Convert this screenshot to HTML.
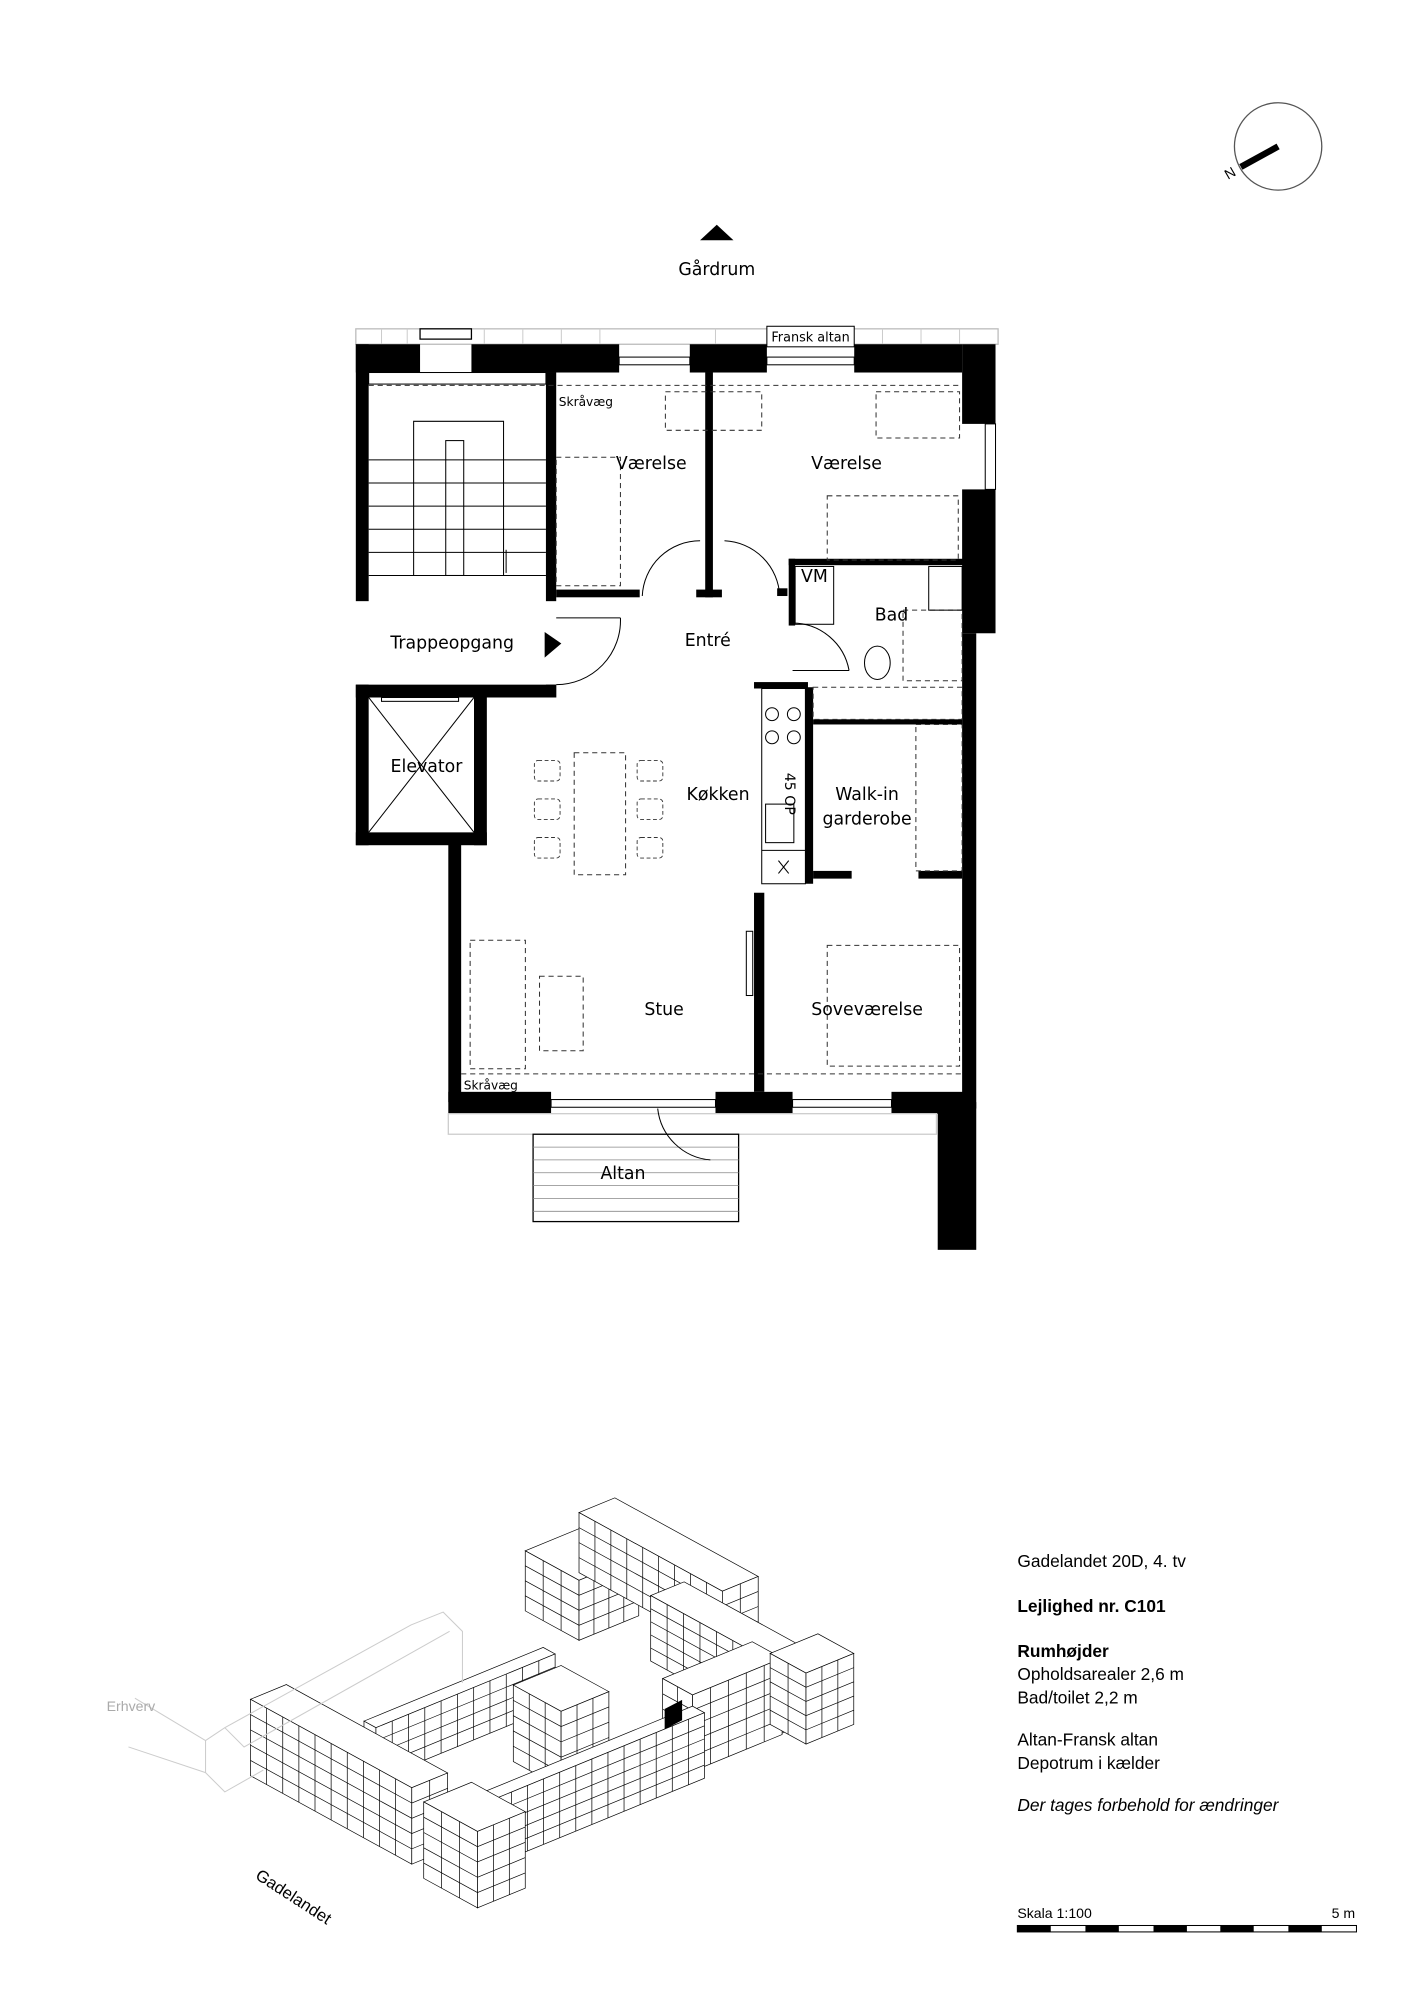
<!DOCTYPE html>
<html><head><meta charset="utf-8"><style>
html,body{margin:0;padding:0;background:#fff;}
svg{display:block;}
text{font-family:"Liberation Sans",sans-serif;}
.o{font-family:"DejaVu Sans","Liberation Sans",sans-serif;}
</style></head><body>
<svg id="s" width="1413" height="2000" viewBox="0 0 1100 1557" xmlns="http://www.w3.org/2000/svg">
<rect width="1100" height="1557" fill="#fff"/>
<circle cx="995" cy="114" r="34" fill="none" stroke="#555" stroke-width="1"/>
<line x1="995" y1="114" x2="966" y2="130" stroke="#000" stroke-width="5"/>
<text x="956" y="140" font-size="11" transform="rotate(-30 956 140)">N</text>
<polygon points="545,187 571,187 558,175" fill="#000"/>
<text class="o" x="558" y="214" font-size="13.5" text-anchor="middle">Gårdrum</text>

<g id="plan" transform="translate(-3,-2)">
<rect x="280" y="258" width="500" height="12" fill="none" stroke="#bbb" stroke-width="1"/>
<g stroke="#ccc" stroke-width="0.8">
<line x1="300" y1="258" x2="300" y2="270"/><line x1="320" y1="258" x2="320" y2="270"/><line x1="380" y1="258" x2="380" y2="270"/><line x1="410" y1="258" x2="410" y2="270"/><line x1="440" y1="258" x2="440" y2="270"/><line x1="470" y1="258" x2="470" y2="270"/><line x1="560" y1="258" x2="560" y2="270"/><line x1="690" y1="258" x2="690" y2="270"/><line x1="720" y1="258" x2="720" y2="270"/><line x1="750" y1="258" x2="750" y2="270"/>
</g>
<rect x="330" y="258" width="40" height="8" fill="#fff" stroke="#000" stroke-width="1"/>
<rect x="600" y="256" width="68" height="16" fill="#fff" stroke="#000" stroke-width="0.8"/>
<text class="o" x="634" y="268" font-size="10" text-anchor="middle">Fransk altan</text>
<g fill="#000">
<rect x="280" y="270" width="50" height="22"/>
<rect x="370" y="270" width="115" height="22"/>
<rect x="540" y="270" width="60" height="22"/>
<rect x="668" y="270" width="84" height="22"/>
<rect x="752" y="270" width="26" height="62"/>
<rect x="752" y="383" width="26" height="112"/>
<rect x="752" y="495" width="11" height="370"/>
<rect x="733" y="860" width="30" height="115"/>
<rect x="280" y="270" width="10" height="200"/>
<rect x="428" y="292" width="8" height="178"/>
<rect x="552" y="292" width="6" height="175"/>
<rect x="436" y="461" width="65" height="6"/>
<rect x="545" y="461" width="20" height="6"/>
<rect x="608" y="460" width="8" height="6"/>
<rect x="617" y="437" width="5" height="52"/>
<rect x="617" y="437" width="140" height="5"/>
<rect x="280" y="535" width="156" height="10"/>
<rect x="428" y="535" width="8" height="10"/>
<rect x="280" y="535" width="10" height="125"/>
<rect x="372" y="545" width="10" height="115"/>
<rect x="280" y="650" width="102" height="10"/>
<rect x="352" y="655" width="10" height="205"/>
<rect x="590" y="533" width="42" height="5"/>
<rect x="630" y="537" width="6" height="153"/>
<rect x="636" y="562" width="116" height="4"/>
<rect x="636" y="680" width="30" height="6"/>
<rect x="718" y="680" width="34" height="6"/>
<rect x="590" y="697" width="8" height="155"/>
<rect x="352" y="852" width="80" height="17"/>
<rect x="560" y="852" width="60" height="17"/>
<rect x="697" y="852" width="65" height="17"/>
<polygon points="427,494 440,503 427,514"/>
</g>
<g fill="none" stroke="#000" stroke-width="0.8">
<rect x="485" y="280" width="55" height="6"/><rect x="600" y="280" width="68" height="6"/>
<rect x="770" y="332" width="8" height="51"/>
<rect x="432" y="858" width="128" height="6"/><rect x="620" y="858" width="77" height="6"/>
<rect x="300" y="545" width="60" height="3"/>
</g>
<rect x="352" y="869" width="380" height="16" fill="none" stroke="#ccc"/>
<rect x="418" y="885" width="160" height="68" fill="none" stroke="#000" stroke-width="1"/>
<g stroke="#888" stroke-width="0.6"><line x1="418" y1="895" x2="578" y2="895"/><line x1="418" y1="905" x2="578" y2="905"/><line x1="418" y1="915" x2="578" y2="915"/><line x1="418" y1="925" x2="578" y2="925"/><line x1="418" y1="935" x2="578" y2="935"/><line x1="418" y1="945" x2="578" y2="945"/></g>
<path d="M515 865 A 45 45 0 0 0 556 905" fill="none" stroke="#000" stroke-width="0.8"/>
<g stroke="#000" stroke-width="0.8" fill="none">
<rect x="290" y="292" width="138" height="9"/>
<polyline points="325,450 325,330 395,330 395,450"/>
<rect x="350" y="345" width="14" height="105"/>
<line x1="290" y1="360" x2="428" y2="360"/><line x1="290" y1="378" x2="428" y2="378"/><line x1="290" y1="396" x2="428" y2="396"/><line x1="290" y1="414" x2="428" y2="414"/><line x1="290" y1="432" x2="428" y2="432"/><line x1="290" y1="450" x2="428" y2="450"/>
<line x1="397" y1="430" x2="397" y2="448"/>
<line x1="290" y1="545" x2="372" y2="650"/><line x1="372" y1="545" x2="290" y2="650"/>
<path d="M436 535 A 50 50 0 0 0 486 483" />
<line x1="436" y1="483" x2="486" y2="483"/>
<path d="M503 466 A 45 45 0 0 1 548 423"/>
<path d="M567 423 A 45 45 0 0 1 610 466"/>
<path d="M620 487 A 45 45 0 0 1 664 524"/>
<line x1="620" y1="524" x2="664" y2="524"/>
</g>
<g stroke="#333" stroke-width="0.8" fill="none" stroke-dasharray="4,3">
<line x1="290" y1="302" x2="752" y2="302"/>
<line x1="362" y1="838" x2="752" y2="838"/>
<rect x="521" y="307" width="75" height="30"/>
<rect x="685" y="307" width="65" height="36"/>
<rect x="436" y="358" width="50" height="100"/>
<rect x="647" y="388" width="102" height="50"/>
<rect x="450" y="588" width="40" height="95"/>
<rect x="369" y="734" width="43" height="100"/>
<rect x="423" y="762" width="34" height="58"/>
<rect x="647" y="738" width="103" height="94"/>
<rect x="706" y="477" width="46" height="55"/>
<rect x="636" y="537" width="116" height="25"/>
<rect x="716" y="566" width="36" height="114"/>
</g>
<g stroke="#333" stroke-width="0.7" fill="none" stroke-dasharray="3,2">
<rect x="419" y="594" width="20" height="16" rx="3"/><rect x="419" y="624" width="20" height="16" rx="3"/><rect x="419" y="654" width="20" height="16" rx="3"/>
<rect x="499" y="594" width="20" height="16" rx="3"/><rect x="499" y="624" width="20" height="16" rx="3"/><rect x="499" y="654" width="20" height="16" rx="3"/>
</g>
<g stroke="#000" stroke-width="0.8" fill="none">
<rect x="596" y="538" width="34" height="152"/>
<circle cx="604" cy="558" r="5"/><circle cx="621" cy="558" r="5"/><circle cx="604" cy="576" r="5"/><circle cx="621" cy="576" r="5"/>
<rect x="599" y="628" width="22" height="30"/>
<line x1="596" y1="664" x2="630" y2="664"/>
<line x1="609" y1="672" x2="617" y2="682"/><line x1="617" y1="672" x2="609" y2="682"/>
<rect x="622" y="443" width="30" height="45"/>
<rect x="726" y="443" width="26" height="34"/>
<ellipse cx="686" cy="518" rx="10" ry="13"/>
<rect x="584" y="727" width="5" height="50"/>
</g>
<text class="o" x="614" y="620" font-size="11" text-anchor="middle" transform="rotate(90 614 620)">45 OP</text>
<g class="o" font-size="13.5" text-anchor="middle">
<text x="510" y="367" class="o">Værelse</text>
<text x="662" y="367" class="o">Værelse</text>
<text x="637" y="455" class="o">VM</text>
<text x="697" y="485" class="o">Bad</text>
<text x="355" y="507" class="o">Trappeopgang</text>
<text x="554" y="505" class="o">Entré</text>
<text x="335" y="603" class="o">Elevator</text>
<text x="562" y="625" class="o">Køkken</text>
<text x="678" y="625" class="o">Walk-in</text>
<text x="678" y="644" class="o">garderobe</text>
<text x="520" y="792" class="o">Stue</text>
<text x="678" y="792" class="o">Soveværelse</text>
<text x="488" y="920" class="o">Altan</text>
</g>
<text class="o" x="438" y="318" font-size="9.5">Skråvæg</text>
<text class="o" x="364" y="850" font-size="9.5">Skråvæg</text>
</g>

<g transform="translate(195,1175) scale(0.93,0.85) translate(-195,-1175)">
<g id="axo" fill="#fff" stroke="#000" stroke-width="0.6"></g>
</g>
<g stroke="#ccc" stroke-width="0.8" fill="none">
<polyline points="160,1380 160,1355 175,1345 320,1265 345,1255 360,1270 360,1310"/>
<polyline points="160,1380 175,1395 205,1378"/>
<polyline points="175,1345 190,1360 350,1270"/>
<polyline points="105,1322 160,1355"/>
<polyline points="100,1360 160,1380"/>
</g>
<text x="83" y="1332" font-size="11" fill="#aaa">Erhverv</text>
<text x="198" y="1462" font-size="13" transform="rotate(33 198 1462)">Gadelandet</text>

<g font-size="13.5">
<text x="792" y="1220">Gadelandet 20D, 4. tv</text>
<text x="792" y="1255" font-weight="bold">Lejlighed nr. C101</text>
<text x="792" y="1290" font-weight="bold">Rumhøjder</text>
<text x="792" y="1308">Opholdsarealer 2,6 m</text>
<text x="792" y="1326">Bad/toilet 2,2 m</text>
<text x="792" y="1359">Altan-Fransk altan</text>
<text x="792" y="1377">Depotrum i kælder</text>
<text x="792" y="1410" font-style="italic">Der tages forbehold for ændringer</text>
</g>
<text x="792" y="1493" font-size="11">Skala 1:100</text>
<text x="1055" y="1493" font-size="11" text-anchor="end">5 m</text>
<rect x="792" y="1499" width="264" height="5" fill="#fff" stroke="#000" stroke-width="0.8"/>
<g fill="#000"><rect x="792" y="1499" width="26" height="5"/><rect x="845" y="1499" width="26" height="5"/><rect x="898" y="1499" width="26" height="5"/><rect x="950" y="1499" width="26" height="5"/><rect x="1003" y="1499" width="26" height="5"/></g>
</svg>
<script>
(function(){
var g=document.getElementById('axo'),NS='http://www.w3.org/2000/svg';
function poly(pts,fill){var p=document.createElementNS(NS,'polygon');p.setAttribute('points',pts.map(function(q){return q[0].toFixed(1)+','+q[1].toFixed(1)}).join(' '));if(fill)p.setAttribute('fill',fill);g.appendChild(p);}
function line(a,b){var l=document.createElementNS(NS,'line');l.setAttribute('x1',a[0]);l.setAttribute('y1',a[1]);l.setAttribute('x2',b[0]);l.setAttribute('y2',b[1]);g.appendChild(l);}
function box(px,py,a,b,h,fl){
 var u=[a,a*0.6],v=[b,-b*0.45];
 var P=[px,py],L=[px-u[0],py-u[1]],R=[px+v[0],py+v[1]],B=[L[0]+v[0],L[1]+v[1]];
 poly([L,P,R,B]);
 poly([L,P,[P[0],P[1]+h],[L[0],L[1]+h]]);
 poly([P,R,[R[0],R[1]+h],[P[0],P[1]+h]]);
 for(var i=1;i<fl;i++){var d=h*i/fl;line([L[0],L[1]+d],[P[0],P[1]+d]);line([P[0],P[1]+d],[R[0],R[1]+d]);}
 var n=Math.round(a/14);for(i=1;i<n;i++){var x=L[0]+u[0]*i/n,y=L[1]+u[1]*i/n;line([x,y],[x,y+h]);}
 n=Math.round(b/14);for(i=1;i<n;i++){x=P[0]+v[0]*i/n;y=P[1]+v[1]*i/n;line([x,y],[x,y+h]);}
}
box(470,1240,45,50,55,4);
box(590,1250,120,30,55,4);
box(640,1320,110,28,60,5);
box(300,1375,10,150,48,4);
box(455,1360,40,40,70,5);
box(565,1345,25,75,70,5);
box(660,1325,30,40,65,5);
box(400,1440,10,175,60,5);
box(330,1430,135,30,70,5);
box(385,1470,45,40,70,5);
var blk=document.createElementNS(NS,'polygon');blk.setAttribute('points','542,1358 556,1350 556,1368 542,1376');blk.setAttribute('fill','#000');g.appendChild(blk);
})();
</script>
</body></html>
